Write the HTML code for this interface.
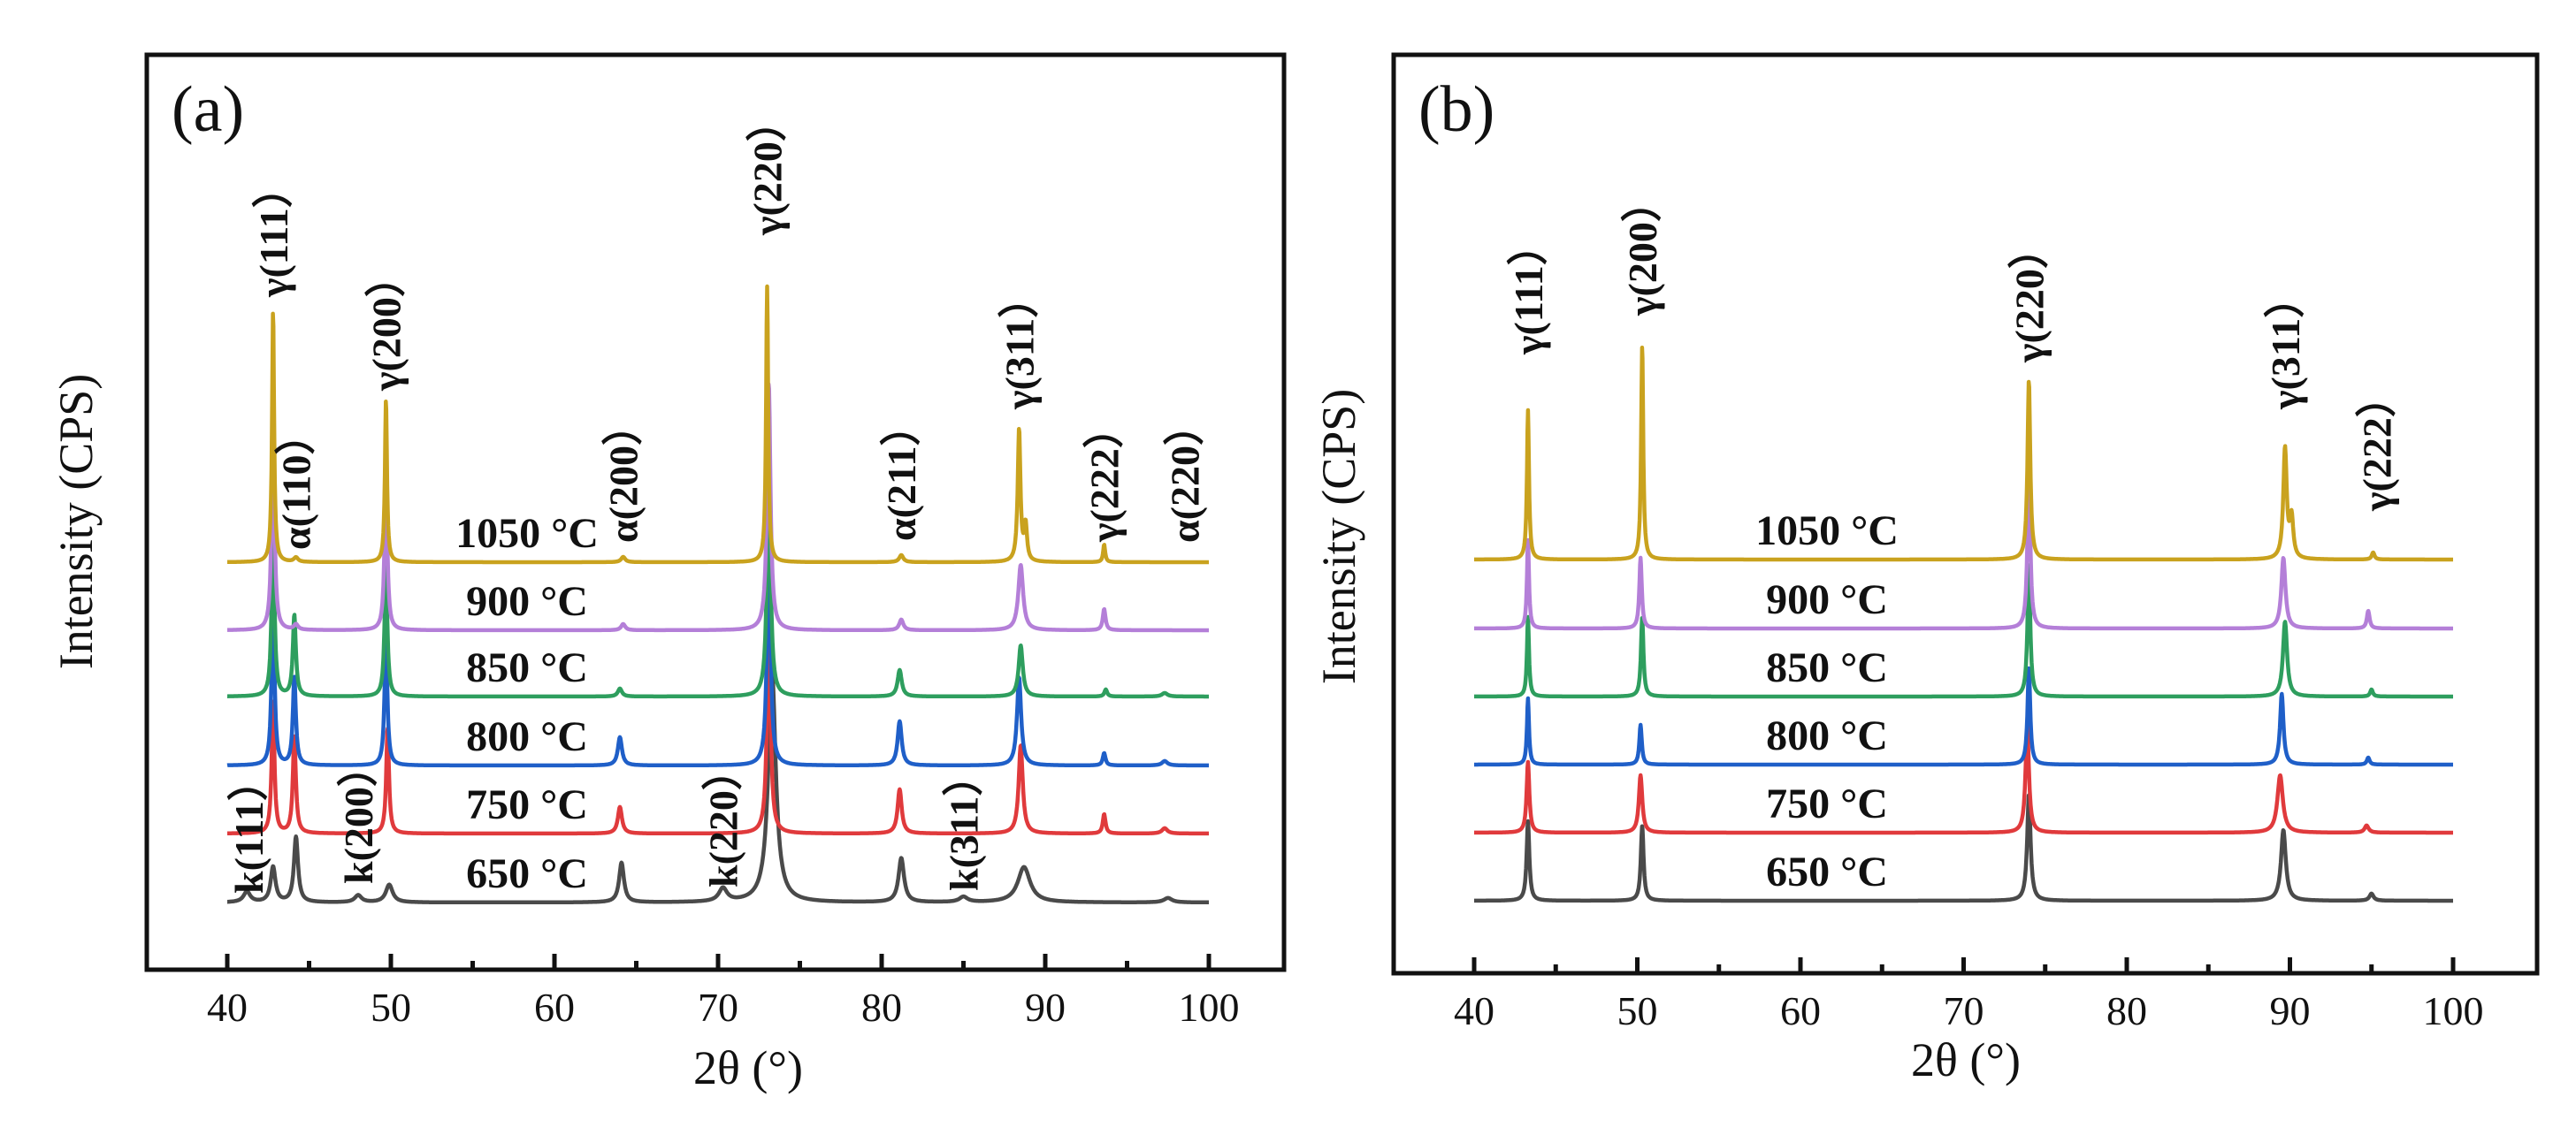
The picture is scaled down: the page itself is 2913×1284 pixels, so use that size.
<!DOCTYPE html>
<html><head><meta charset="utf-8"><style>
html,body{margin:0;padding:0;background:#fff;}
svg{display:block;}
text{font-family:"Liberation Serif",serif;fill:#111;}
.tk{font-size:46px;}
.tt{font-size:48px;font-weight:bold;}
.pk{font-size:46px;font-weight:bold;}
.ax{font-size:54px;}
.pl{font-size:74px;}
</style></head><body>
<svg id="chart" width="2913" height="1284" viewBox="0 0 2913 1284" xmlns="http://www.w3.org/2000/svg">
<g id="pa"></g>
<g id="pb"></g>
</svg>
<script>
// ---- data ----
const temps = ["650 °C","750 °C","800 °C","850 °C","900 °C","1050 °C"];
const colors = ["#4a4a4a","#e03a3c","#1f5fc8","#2e9e5e","#b47fd8","#c9a21e"];
const xTicks = [40,50,60,70,80,90,100];

// Panel (a): peak positions, heights, widths per series (index matches temps)
const aPos = [
  [41.2,42.8,44.2,48.0,49.9,64.1,70.3,73.3,81.2,85.0,88.7,97.5],
  [42.8,44.1,49.8,64.0,73.1,81.1,88.5,93.6,97.3],
  [42.8,44.1,49.7,64.0,73.1,81.1,88.4,93.6,97.3],
  [42.8,44.1,49.7,64.0,73.1,81.1,88.5,93.7,97.3],
  [42.8,44.2,49.7,64.2,73.1,81.2,88.5,93.6],
  [42.8,44.2,49.7,64.2,73.0,81.2,88.4,88.8,93.6]
];
const aHt = [
  [12,40,74,8,20,45,15,260,50,6,40,5],
  [150,110,120,30,250,50,100,22,6],
  [200,100,150,32,260,50,100,14,5],
  [200,92,150,9,270,30,58,8,4],
  [250,6,180,7,280,12,74,24],
  [286,5,185,6,312,8,150,40,20]
];
const aWd = [
  [0.5,0.35,0.3,0.5,0.5,0.35,0.6,0.55,0.4,0.6,0.9,0.6],
  [0.2,0.22,0.2,0.3,0.25,0.3,0.3,0.2,0.4],
  [0.2,0.22,0.2,0.3,0.25,0.3,0.3,0.2,0.4],
  [0.2,0.22,0.2,0.3,0.25,0.3,0.3,0.2,0.4],
  [0.2,0.3,0.2,0.3,0.25,0.3,0.35,0.2],
  [0.15,0.3,0.15,0.3,0.15,0.3,0.2,0.2,0.15]
];
const aBase = [0,78,155,233,308,385];
const bPos = [
  [43.3,50.3,74.0,89.6,95.0],
  [43.3,50.2,73.9,89.4,94.7],
  [43.3,50.2,74.0,89.5,94.8],
  [43.3,50.3,74.0,89.7,95.0],
  [43.3,50.2,74.0,89.6,94.8],
  [43.3,50.3,74.0,89.7,90.1,95.1]
];
const bHt = [
  [90,85,120,80,8],[80,65,120,65,8],[75,45,110,80,8],[90,90,150,85,8],[100,80,190,80,20],[169,244,203,125,45,8]
];
const bWd = [
  [0.2,0.2,0.25,0.35,0.3],[0.2,0.25,0.25,0.4,0.3],[0.15,0.18,0.2,0.25,0.2],[0.15,0.18,0.2,0.3,0.2],[0.15,0.18,0.2,0.3,0.2],[0.15,0.15,0.2,0.25,0.25,0.2]
];
const bBase = [0,77,154,231,308,386];

const aLabels = ["γ(111）","α(110）","γ(200）","α(200）","γ(220）","α(211）","γ(311）","γ(222）","α(220）","k(111）","k(200）","k(220）","k(311）"];
const aLabX = [42.8,44.2,49.7,64.2,73.0,81.2,88.4,93.6,98.5,41.3,48.0,70.3,85.0];
const aLabY = [336,622,442,614,266,612,463,613,614,1011,1000,1004,1008];
const bLabels = ["γ(111）","γ(200）","γ(220）","γ(311）","γ(222）"];
const bLabX = [43.3,50.3,74.0,89.7,95.3];
const bLabY = [401,357,410,463,578];

const NS="http://www.w3.org/2000/svg";
function mk(tag,attrs,parent){const e=document.createElementNS(NS,tag);for(const k in attrs)e.setAttribute(k,attrs[k]);parent.appendChild(e);return e;}

function panel(g,cfg){
  const X = v => cfg.x40 + (v-40)*cfg.pxPerDeg;
  const fr=mk('rect',{x:cfg.L,y:cfg.T,width:cfg.R-cfg.L,height:cfg.B-cfg.T,fill:'none',stroke:'#111','stroke-width':5},g);
  
  
  xTicks.forEach((t,i)=>{
    const l=mk('line',{x1:X(t),x2:X(t),y1:cfg.B,y2:cfg.B-18,stroke:'#111','stroke-width':5},g);
    
    
    if(i<xTicks.length-1){const m=mk('line',{x1:X(t+5),x2:X(t+5),y1:cfg.B,y2:cfg.B-10,stroke:'#111','stroke-width':5},g);
      
      }
    const tx=mk('text',{x:X(t),y:cfg.B+58,'text-anchor':'middle',class:'tk'},g);tx.textContent=t;
    
    
  });
  for(let s=0;s<temps.length;s++){
    let d='';
    for(let v=40;v<=100.0001;v+=0.03){
      let h=0;
      cfg.pos[s].forEach((p,k)=>{const w=cfg.wd[s][k]/2;const dx=v-p;h+=cfg.ht[s][k]*(w*w)/(dx*dx+w*w);});
      d+=(d?'L':'M')+X(v).toFixed(1)+' '+(cfg.y0-cfg.base[s]-h).toFixed(1);
    }
    const p=mk('path',{d:d,fill:'none',stroke:colors[s],'stroke-width':4.5,'stroke-linejoin':'round'},g);
    
    
    const t=mk('text',{x:cfg.labX,y:cfg.y0-cfg.base[s]-17,'text-anchor':'middle',class:'tt'},g);t.textContent=temps[s];
    
    
  }
  cfg.labels.forEach((lb,i)=>{
    const x=X(cfg.labX2[i])+16, y=cfg.labY[i];
    const t=mk('text',{x:0,y:0,class:'pk',transform:`translate(${x},${y}) rotate(-90)`},g);t.textContent=lb;
    
    
  });
  const pl=mk('text',{x:cfg.L+28,y:cfg.T+86,class:'pl'},g);pl.textContent=cfg.name;
  
  
  const yt=mk('text',{x:0,y:0,class:'ax','text-anchor':'middle',transform:`translate(${cfg.ytX},${cfg.ytY}) rotate(-90)`},g);yt.textContent='Intensity (CPS)';
  
  
  const xt=mk('text',{x:cfg.xtX,y:cfg.xtY,class:'ax','text-anchor':'middle'},g);xt.textContent='2θ (°)';
  
  
}

panel(document.getElementById('pa'),{L:166,T:62,R:1452,B:1097,x40:257,pxPerDeg:18.5,y0:1021,
  pos:aPos,ht:aHt,wd:aWd,base:aBase,labX:596,labels:aLabels,labX2:aLabX,labY:aLabY,name:'(a)',
  ytX:104,ytY:590,xtX:846,xtY:1226});
panel(document.getElementById('pb'),{L:1576,T:62,R:2869,B:1101,x40:1667,pxPerDeg:18.45,y0:1019,
  pos:bPos,ht:bHt,wd:bWd,base:bBase,labX:2066,labels:bLabels,labX2:bLabX,labY:bLabY,name:'(b)',
  ytX:1532,ytY:607,xtX:2223,xtY:1217});
</script>
</body></html>
